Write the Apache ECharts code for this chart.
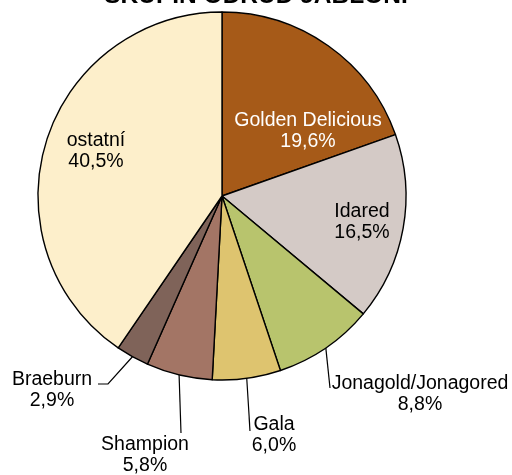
<!DOCTYPE html>
<html>
<head>
<meta charset="utf-8">
<script src="https://cdn.jsdelivr.net/npm/echarts@6/dist/echarts.min.js"></script>
<style>html,body{margin:0;padding:0;background:#fff}#c{width:512px;height:475px}</style>
</head>
<body>
<div id="c"></div>
<script>
const titleText = 'SKUPIN ODRŮD JABLONÍ';
const categories = ['Golden Delicious', 'Idared', 'Jonagold/Jonagored', 'Gala', 'Shampion', 'Braeburn', 'ostatní'];
const values = [19.6, 16.5, 8.8, 6.0, 5.8, 2.9, 40.5];
const colors = ['#A65A18', '#D4CAC6', '#B8C46D', '#DEC46F', '#A37565', '#7F6359', '#FDEFCB'];
const labelColors = ['#fff', '#000', '#000', '#000', '#000', '#000', '#000'];
const insideLabel = [true, true, false, false, false, false, true];
// label block centres and leader-line bends (layout, not data)
const labelCentres = [[308, 131], [362, 222], [420, 394], [274, 435], [145, 455], [52, 390], [96, 151]];
const leaderBends = [null, null, [[330, 388]], [[250, 431]], [[181, 433]], [[108, 384], [98, 384]], null];

const chart = echarts.init(document.getElementById('c'), null, {renderer: 'canvas'});
const data = categories.map((name, i) => ({
  name: name,
  value: values[i],
  itemStyle: {color: colors[i]},
  label: {position: insideLabel[i] ? 'inside' : 'outside', color: labelColors[i]},
  labelLine: {show: !insideLabel[i]}
}));

chart.setOption({
  animation: false,
  title: {
    text: titleText,
    left: 'center',
    top: -21,
    textStyle: {fontFamily: 'Liberation Sans, Arial', fontWeight: 'bold', fontSize: 24.5, color: '#000'}
  },
  series: [{
    type: 'pie',
    center: [222, 196],
    radius: [0, 184],
    startAngle: 90,
    clockwise: true,
    data: data,
    itemStyle: {borderColor: '#000', borderWidth: 1.4},
    label: {
      show: true,
      overflow: 'none',
      fontFamily: 'Liberation Sans, Arial',
      fontSize: 19.5,
      lineHeight: 21,
      align: 'center',
      formatter: p => p.name + '\n' + p.value.toFixed(1).replace('.', ',') + '%'
    },
    labelLine: {show: true, lineStyle: {color: '#000', width: 1.2}},
    labelLayout: function (params) {
      const i = params.dataIndex;
      const c = labelCentres[i];
      const res = {x: c[0], y: c[1], align: 'center', verticalAlign: 'middle'};
      if (leaderBends[i] && params.labelLinePoints) {
        const start = params.labelLinePoints[0];
        const b = leaderBends[i];
        res.labelLinePoints = [start, b[0], b[1] || b[0]];
      }
      return res;
    }
  }]
});
</script>
</body>
</html>
